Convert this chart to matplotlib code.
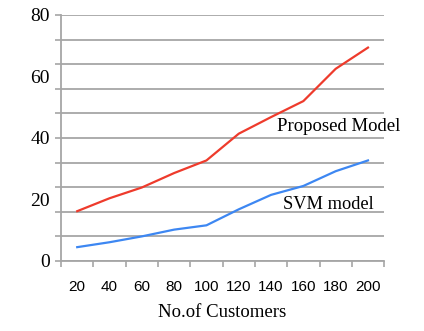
import numpy as np
import matplotlib.pyplot as plt
from matplotlib.ticker import MultipleLocator, FixedLocator, NullFormatter

# Données
customers = ["20", "40", "60", "80", "100", "120", "140", "160", "180", "200"]
proposed = [16.2, 20.4, 23.9, 28.6, 32.7, 41.4, 46.8, 52.0, 62.5, 69.4]
svm = [4.5, 6.1, 8.0, 10.2, 11.6, 16.8, 21.5, 24.4, 29.2, 32.7]
y_labels = [0, 20, 40, 60, 80]

serif = "Liberation Serif"
grey = "#a6a6a6"

fig = plt.figure(figsize=(4.24, 3.31), dpi=100)
ax = fig.add_axes([0.144, 0.2115, 0.762, 0.7432])

x = np.arange(len(customers))
ax.plot(x, proposed, color="#ee3b2c", linewidth=1.6)
ax.plot(x, svm, color="#3d87f2", linewidth=1.6)

ax.set_xlim(-0.5, len(customers) - 0.5)
ax.set_ylim(0, 80)

# Grille tous les 8, étiquettes tous les 20
ax.yaxis.remove_overlapping_locs = False
ax.yaxis.set_major_locator(MultipleLocator(8))
ax.yaxis.set_major_formatter(NullFormatter())
ax.yaxis.set_minor_locator(FixedLocator(y_labels))
ax.set_yticklabels([str(v) for v in y_labels], minor=True, fontfamily=serif, fontsize=14)
ax.tick_params(axis="y", which="major", length=4, color=grey, width=1.2)
ax.tick_params(axis="y", which="minor", length=0, pad=8)
ax.grid(axis="y", which="major", color=grey, linewidth=1.3)

# Axe x : traits entre les catégories, étiquettes au centre
ax.xaxis.set_major_locator(FixedLocator(np.arange(-0.5, len(customers), 1)))
ax.xaxis.set_major_formatter(NullFormatter())
ax.xaxis.set_minor_locator(FixedLocator(x))
ax.set_xticklabels(customers, minor=True, fontfamily="Liberation Sans", fontsize=11)
ax.tick_params(axis="x", which="major", length=4, color=grey, width=1.2)
ax.tick_params(axis="x", which="minor", length=0, pad=14)
ax.set_xlabel("No.of Customers", fontfamily=serif, fontsize=13.5, labelpad=7)

for s in ["top", "right"]:
    ax.spines[s].set_visible(False)
for s in ["left", "bottom"]:
    ax.spines[s].set_color(grey)
    ax.spines[s].set_linewidth(1.3)

ax.text(6.19, 43.7, "Proposed Model", fontfamily=serif, fontsize=13.5, va="center")
ax.text(6.37, 18.4, "SVM model", fontfamily=serif, fontsize=13.2, va="center")

fig.savefig("out.png", dpi=100)
